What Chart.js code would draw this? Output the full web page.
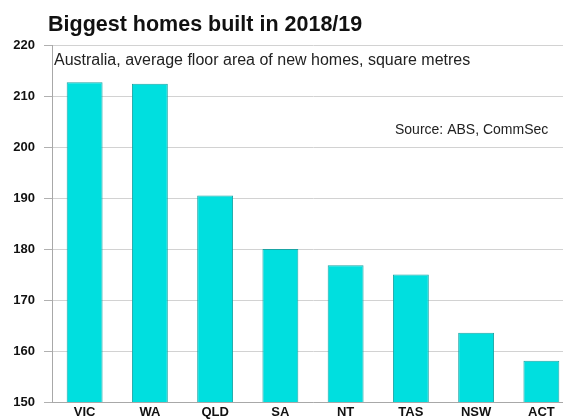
<!DOCTYPE html>
<html>
<head>
<meta charset="utf-8">
<script src="https://cdn.jsdelivr.net/npm/chart.js@4/dist/chart.umd.min.js"></script>
<style>
  html, body { margin: 0; padding: 0; background: #fff; overflow: hidden; }
  #wrap { position: absolute; left: 0; top: 0; }
</style>
</head>
<body>
<div id="wrap"><canvas id="chart" width="577" height="419"></canvas></div>
<script>
'use strict';

// data
const states = ['VIC', 'WA', 'QLD', 'SA', 'NT', 'TAS', 'NSW', 'ACT'];
const floorArea = [212.7, 212.4, 190.5, 180.0, 176.8, 175.0, 163.6, 158.1];
const yTicks = [150, 160, 170, 180, 190, 200, 210, 220];

const titleText = 'Biggest homes built in 2018/19';
const subtitleText = 'Australia, average floor area of new homes, square metres';
const sourceText = 'Source: ABS, CommSec';

const fontFamily = '"Liberation Sans", Arial, Helvetica, sans-serif';

// titles and notes are drawn as plain text on the canvas
const textPlugin = {
  id: 'textPlugin',
  afterDraw(chart) {
    const ctx = chart.ctx;
    ctx.save();
    ctx.fillStyle = '#111';
    ctx.textBaseline = 'alphabetic';
    ctx.textAlign = 'left';
    ctx.font = 'bold 21.5px ' + fontFamily;
    ctx.fillText(titleText, 48, 31);
    ctx.fillStyle = '#222';
    ctx.font = '16px ' + fontFamily;
    ctx.fillText(subtitleText, 54, 65);
    ctx.font = '14px ' + fontFamily;
    ctx.fillText(sourceText, 395, 134);
    ctx.restore();
  }
};

const ctx = document.getElementById('chart');
const chart = new Chart(ctx, {
  type: 'bar',
  data: {
    labels: states,
    datasets: [{
      data: floorArea,
      backgroundColor: '#00dfdf',
      borderColor: '#1aa5a5',
      borderWidth: 1,
      barPercentage: 0.55,
      categoryPercentage: 1.0
    }]
  },
  options: {
    responsive: false,
    animation: false,
    layout: { padding: { top: 45, right: 3, left: 0, bottom: 0 } },
    plugins: {
      legend: { display: false },
      tooltip: { enabled: false },
      title: { display: false }
    },
    scales: {
      x: {
        grid: { display: false, drawTicks: false },
        border: { display: true, color: '#a8a8a8', width: 1 },
        ticks: {
          color: '#111',
          font: { family: fontFamily, size: 13, weight: 'bold' },
          padding: 3,
          maxRotation: 0
        },
        afterFit(scale) { scale.height = 17; }
      },
      y: {
        min: 150,
        max: 220,
        afterBuildTicks(scale) {
          scale.ticks = yTicks.map(v => ({ value: v }));
        },
        grid: {
          color: '#d2d2d2',
          lineWidth: 1,
          tickLength: 8,
          tickColor: '#b0b0b0'
        },
        border: { display: true, color: '#a8a8a8', width: 1 },
        ticks: {
          color: '#111',
          font: { family: fontFamily, size: 13, weight: 'bold' },
          padding: 9
        },
        afterFit(scale) { scale.width = 52; }
      }
    }
  },
  plugins: [textPlugin]
});
</script>
</body>
</html>
